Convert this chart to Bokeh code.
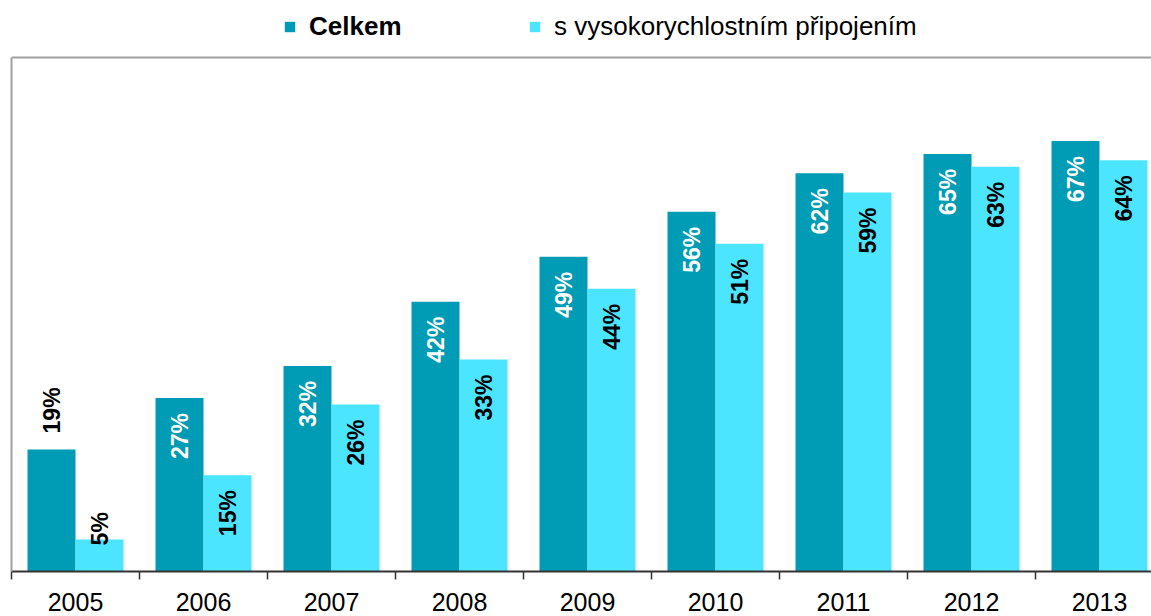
import math
from bokeh.plotting import figure
from bokeh.models import (Range1d, FixedTicker, Span, Legend, LegendItem,
                          ColumnDataSource)
from bokeh.core.properties import value
from bokeh.embed import file_html
from bokeh.resources import INLINE

# ---- data ----
years = ["2005", "2006", "2007", "2008", "2009", "2010", "2011", "2012", "2013"]
celkem = [19, 27, 32, 42, 49, 56, 62, 65, 67]
vysoko = [5, 15, 26, 33, 44, 51, 59, 63, 64]
series_names = ["Celkem", "s vysokorychlostním připojením"]
colors = ["#009CB5", "#4BE5FF"]

# ---- layout constants ----
W, H = 1151, 616
FRAME_LEFT = 11
FRAME_BOTTOM = 571          # frame bottom in figure px
FRAME_TOP_VALUE = 80        # value at gray frame top line
GRAY_TOP_PX = 57            # figure px of gray frame top line
scale = (FRAME_BOTTOM - GRAY_TOP_PX) / FRAME_TOP_VALUE
y_end = FRAME_BOTTOM / scale
n = len(years)
x_end = (W - FRAME_LEFT) / 128.0
bw = 0.375
FONT = "Liberation Sans"
GRAY = "#A0A0A0"

p = figure(width=W, height=H, output_backend="svg", toolbar_location=None,
           x_range=Range1d(0, x_end), y_range=Range1d(0, y_end),
           min_border_left=FRAME_LEFT, min_border_right=0,
           min_border_top=0, min_border_bottom=H - FRAME_BOTTOM)
p.outline_line_color = None
p.xgrid.visible = False
p.ygrid.visible = False
p.background_fill_color = "white"
p.border_fill_color = "white"

centers = [i + 0.5 for i in range(n)]
x_dark = [c - bw / 2 for c in centers]
x_light = [c + bw / 2 for c in centers]

src = ColumnDataSource(dict(x_dark=x_dark, x_light=x_light, celkem=celkem, vysoko=vysoko))
r1 = p.vbar(x="x_dark", top="celkem", width=bw, source=src,
            fill_color=colors[0], line_color=None)
r2 = p.vbar(x="x_light", top="vysoko", width=bw, source=src,
            fill_color=colors[1], line_color=None)

# frame: top line + left line (left axis with bounds, no ticks)
p.add_layout(Span(location=FRAME_TOP_VALUE, dimension="width",
                  line_color=GRAY, line_width=2, level="underlay"))
yax = p.yaxis[0]
yax.bounds = (0, FRAME_TOP_VALUE)
yax.ticker = FixedTicker(ticks=[])
yax.axis_line_color = GRAY
yax.axis_line_width = 2
yax.major_tick_line_color = None
yax.minor_tick_line_color = None
yax.major_tick_out = 0
yax.major_label_standoff = 0

# ---- data labels ----
in_white = dict(x=[], y=[], t=[])
above = dict(x=[], y=[], t=[])
in_black = dict(x=[], y=[], t=[])
low = dict(x=[], y=[], t=[])
for xd, xl, a, b in zip(x_dark, x_light, celkem, vysoko):
    if a >= 25:
        in_white["x"].append(xd); in_white["y"].append(a); in_white["t"].append(f"{a}%")
    else:
        above["x"].append(xd); above["y"].append(a); above["t"].append(f"{a}%")
    if b >= 10:
        in_black["x"].append(xl); in_black["y"].append(b); in_black["t"].append(f"{b}%")
    else:
        low["x"].append(xl); low["y"].append(b); low["t"].append(f"{b}%")

common = dict(angle=math.pi / 2, text_font=value(FONT), text_font_style="bold",
              text_font_size="23px", text_baseline="middle")
p.text(x="x", y="y", text="t", source=ColumnDataSource(in_white), text_color="white",
       text_align="right", y_offset=15, **common)
p.text(x="x", y="y", text="t", source=ColumnDataSource(in_black), text_color="black",
       text_align="right", y_offset=15, **common)
p.text(x="x", y="y", text="t", source=ColumnDataSource(above), text_color="black",
       text_align="left", y_offset=-16, **common)
p.text(x="x", y="y", text="t", source=ColumnDataSource(low), text_color="black",
       text_align="left", y_offset=6, **common)

# ---- x axis ----
ax = p.xaxis[0]
ax.ticker = FixedTicker(ticks=centers, minor_ticks=[float(i) for i in range(n + 1)])
ax.major_label_overrides = {c: y for c, y in zip(centers, years)}
ax.axis_line_color = "#333333"
ax.axis_line_width = 2
ax.major_tick_line_color = None
ax.major_tick_out = 0
ax.major_tick_in = 0
ax.minor_tick_line_color = "#333333"
ax.minor_tick_line_width = 1.5
ax.minor_tick_out = 8
ax.minor_tick_in = 0
ax.major_label_standoff = 13
ax.major_label_text_font = FONT
ax.major_label_text_font_size = "25px"
ax.major_label_text_color = "black"

# ---- legends ----
leg_common = dict(orientation="horizontal", glyph_width=13, glyph_height=13,
                  label_standoff=13, padding=0, margin=0, spacing=0,
                  border_line_color=None, background_fill_alpha=0,
                  label_text_font=FONT, label_text_font_size="26px",
                  label_text_color="black")
vy = FRAME_BOTTOM - 42
leg1 = Legend(items=[LegendItem(label=series_names[0], renderers=[r1])],
              location=(272, vy), label_text_font_style="bold", **leg_common)
leg2 = Legend(items=[LegendItem(label=series_names[1], renderers=[r2])],
              location=(517, vy), **leg_common)
p.add_layout(leg1)
p.add_layout(leg2)

open("out.html", "w").write(file_html(p, INLINE))
